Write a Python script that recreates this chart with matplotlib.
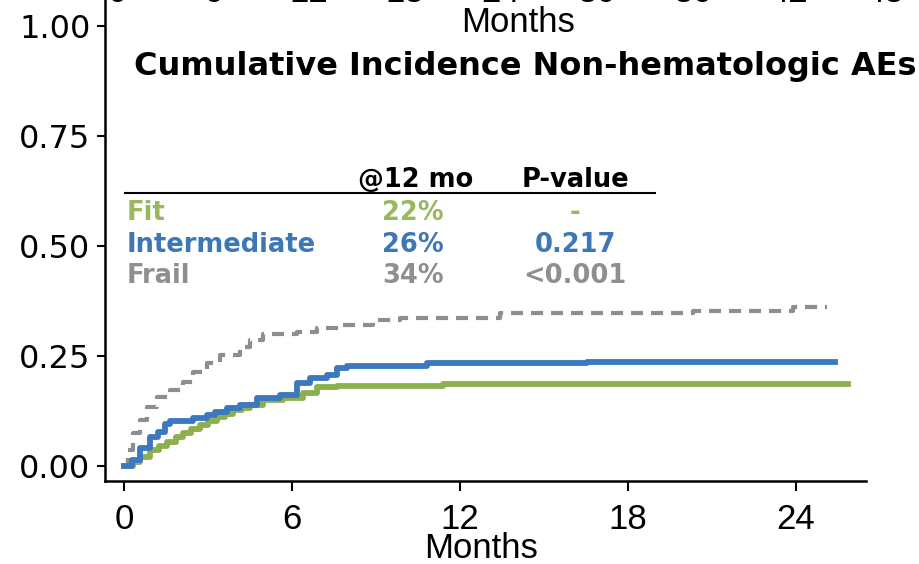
import matplotlib
matplotlib.use('Agg')
import matplotlib.pyplot as plt
from matplotlib.lines import Line2D

# cumulative incidence of non-hematologic AEs by frailty group (step curves)
fit_months = [0.0, 0.32, 0.57, 0.93, 1.25, 1.54, 1.85, 2.11, 2.4, 2.71, 3.0, 3.32, 3.6, 3.89, 4.2, 4.5, 4.96, 5.68, 6.39, 6.89, 7.61, 11.39, 25.86]
fit_inc = [0.0, 0.009, 0.02, 0.036, 0.045, 0.055, 0.066, 0.075, 0.084, 0.093, 0.102, 0.111, 0.119, 0.127, 0.133, 0.139, 0.15, 0.155, 0.166, 0.18, 0.182, 0.186, 0.186]

int_months = [0.0, 0.29, 0.57, 0.93, 1.21, 1.46, 1.64, 2.46, 2.96, 3.25, 3.68, 4.14, 4.75, 5.57, 6.18, 6.64, 7.25, 7.61, 7.96, 10.82, 16.54, 25.4]
int_inc = [0.0, 0.014, 0.041, 0.066, 0.077, 0.095, 0.102, 0.109, 0.116, 0.123, 0.132, 0.139, 0.155, 0.161, 0.189, 0.2, 0.207, 0.223, 0.227, 0.234, 0.236, 0.236]

frail_months = [0.0, 0.14, 0.32, 0.57, 0.82, 1.18, 1.64, 2.11, 2.46, 2.96, 3.43, 4.14, 4.5, 4.96, 6.18, 6.89, 7.71, 8.89, 9.86, 13.43, 20.32, 23.89, 25.11]
frail_inc = [0.0, 0.036, 0.075, 0.105, 0.134, 0.157, 0.173, 0.191, 0.214, 0.234, 0.252, 0.27, 0.286, 0.3, 0.305, 0.314, 0.32, 0.332, 0.336, 0.348, 0.352, 0.361, 0.361]

x_ticks = [0, 6, 12, 18, 24]
y_ticks = [0.0, 0.25, 0.5, 0.75, 1.0]
y_ticklabels = ['0.00', '0.25', '0.50', '0.75', '1.00']

# summary table
groups = ['Fit', 'Intermediate', 'Frail']
at_12mo = ['22%', '26%', '34%']
p_values = ['-', '0.217', '<0.001']

# x tick labels of the panel above, cut off by the top edge
upper_ticks = ['0', '6', '12', '18', '24', '30', '36', '42', '48']

line_colors = {'Fit': '#8db04f', 'Intermediate': '#3b78bf', 'Frail': '#8e8e8e'}
text_colors = {'Fit': '#98b85e', 'Intermediate': '#3d77b5', 'Frail': '#8f8f8f'}

W, H = 919, 564
narrow = ['Liberation Sans Narrow', 'Liberation Sans', 'DejaVu Sans']
wide = ['DejaVu Sans']

fig = plt.figure(figsize=(W / 100, H / 100), dpi=100)
fig.patch.set_facecolor('white')

def fx(px):
    return px / W

def fy(py):
    return 1 - py / H

ax = fig.add_axes([fx(104.5), 83 / H, (866 - 104.5) / W, 481 / H])
ax.set_xlim(-0.70, 26.5)
ax.set_ylim(-0.034, 1.059)

ax.plot(frail_months, frail_inc, drawstyle='steps-post', color=line_colors['Frail'],
        lw=3, dashes=(2.9, 1.9), zorder=2)
ax.plot(fit_months, fit_inc, drawstyle='steps-post', color=line_colors['Fit'],
        lw=4.2, zorder=3)
ax.plot(int_months, int_inc, drawstyle='steps-post', color=line_colors['Intermediate'],
        lw=4.2, zorder=4)

for side in ['top', 'right']:
    ax.spines[side].set_visible(False)
for side in ['left', 'bottom']:
    ax.spines[side].set_linewidth(1.8)

ax.set_xticks(x_ticks)
ax.set_xticklabels([str(t) for t in x_ticks], family=narrow, fontsize=25)
ax.set_yticks(y_ticks)
ax.set_yticklabels(y_ticklabels, family=wide, fontsize=23)
ax.tick_params(axis='x', length=7, width=1.5, pad=8.5)
ax.tick_params(axis='y', length=6, width=1.5, pad=4)

fig.text(fx(481), fy(549), 'Months', family=narrow, fontsize=25, ha='center', va='center')
fig.text(fx(518), fy(23), 'Months', family=narrow, fontsize=25, ha='center', va='center')
for i, lab in enumerate(upper_ticks):
    fig.text(fx(117 + 96 * i), fy(1.5), lab, family=narrow, fontsize=25, ha='center', va='baseline')

fig.text(fx(525), fy(66), 'Cumulative Incidence Non-hematologic AEs', family=wide,
         fontsize=23, weight='bold', ha='center', va='center')

# table header and rule
fig.text(fx(416), fy(180), '@12 mo', family=wide, fontsize=18.5, weight='bold', ha='center', va='center')
fig.text(fx(575), fy(180), 'P-value', family=wide, fontsize=18.5, weight='bold', ha='center', va='center')
fig.add_artist(Line2D([fx(125), fx(655)], [fy(193), fy(193)], lw=1.5, color='black'))

row_y = [213, 245, 276]
for g, pct, p, y in zip(groups, at_12mo, p_values, row_y):
    c = text_colors[g]
    fig.text(fx(127), fy(y), g, family=wide, fontsize=18.5, weight='bold', color=c, ha='left', va='center')
    fig.text(fx(413), fy(y), pct, family=wide, fontsize=18.5, weight='bold', color=c, ha='center', va='center')
    fig.text(fx(575), fy(y), p, family=wide, fontsize=18.5, weight='bold', color=c, ha='center', va='center')

fig.savefig('out.png', dpi=100)
